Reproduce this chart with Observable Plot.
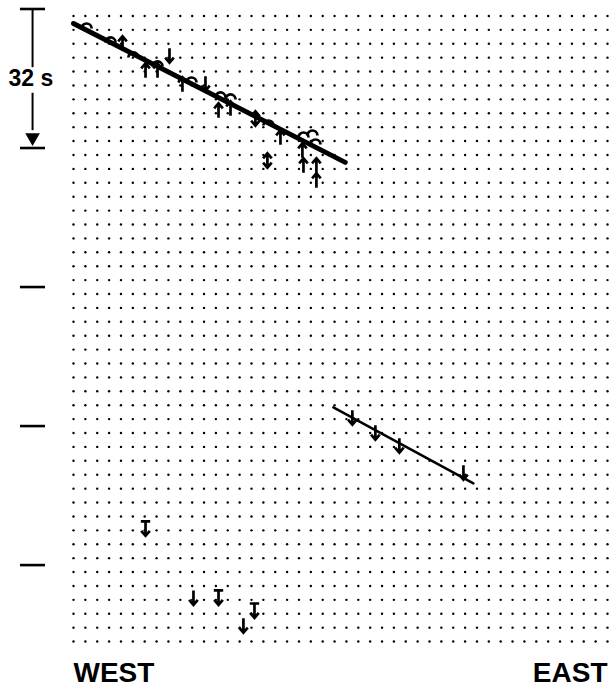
<!DOCTYPE html>
<html><head><meta charset="utf-8">
<script src="https://cdn.jsdelivr.net/npm/d3@7"></script>
<script src="https://cdn.jsdelivr.net/npm/@observablehq/plot@0.6"></script>
<style>body{margin:0;background:#fff;font-family:"Liberation Sans",Arial,sans-serif}</style>
</head><body><div id="chart"></div>
<script>
// Background dot grid: 46 distance columns x 46 time rows (3.2 s apart)
const gridColumns = d3.range(0, 46);
const gridRows = d3.range(0, 46).map(k => 1.6 + 3.2 * k);

// Time ticks on the left (seconds) and the scale bracket
const timeTicks = [0, 32, 64, 96, 128];
const bracketLabel = "32 s";

// First-motion arrows: distance (grid units), time (s), kind
const arrowX = [1.1, 3.12, 4.13, 5.05, 8.09, 6.07, 7.08, 7.08, 9.94, 9.18, 11.12, 12.38, 12.22, 13.23, 13.23,
  15.33, 16.43, 17.44, 16.34, 19.38, 19.29, 20.13, 20.39, 19.38, 20.47, 20.47,
  23.5, 25.44, 27.46, 32.86,
  6.07, 10.11, 12.22, 15.25, 14.32];
const arrowT = [4.03, 7.25, 7.94, 10.7, 10.7, 14.16, 14.16, 12.77, 16.46, 17.38, 17.15, 19.91, 23.37, 22.9, 20.37,
  25.21, 26.36, 29.58, 34.88, 29.12, 32.57, 28.66, 30.73, 36.03, 36.03, 39.48,
  94.04, 97.49, 100.48, 106.7,
  119.6, 135.5, 135.5, 138.5, 141.9];
const arrowKind = ["arc", "arc", "up", "arc", "down", "up", "up", "arc", "arc", "up", "down", "arc", "up", "up", "arc",
  "updown", "arc", "up", "updown", "arc", "up", "arc", "arc", "up", "up", "up",
  "down", "down", "down", "down",
  "bardown", "down", "bardown", "bardown", "down"];

// Fitted travel-time lines
const upperLineX = [0, 22.9];
const upperLineT = [3.34, 35.3];
const lowerLineX = [21.9, 33.7];
const lowerLineT = [91.7, 109.2];

const arrows = arrowX.map((x, i) => ({x, t: arrowT[i], kind: arrowKind[i]}));
const grid = d3.cross(gridColumns, gridRows).map(([x, t]) => ({x, t}));
const upper = upperLineX.map((x, i) => ({x, t: upperLineT[i]}));
const lower = lowerLineX.map((x, i) => ({x, t: lowerLineT[i]}));

const R = s => Math.sqrt(s / Math.PI);
const head = (c, r, dir) => { c.moveTo(-0.6*r, dir*0.3*r); c.lineTo(0, dir*r); c.lineTo(0.6*r, dir*0.3*r); };
const symbols = {
  up: {draw(c, s) { const r = R(s); c.moveTo(0, r); c.lineTo(0, -r); head(c, r, -1); }},
  down: {draw(c, s) { const r = R(s); c.moveTo(0, -r); c.lineTo(0, r); head(c, r, 1); }},
  updown: {draw(c, s) { const r = R(s); c.moveTo(0, -r); c.lineTo(0, r); head(c, r, 1); head(c, r, -1); }},
  bardown: {draw(c, s) { const r = R(s); c.moveTo(-0.65*r, -r); c.lineTo(0.65*r, -r); c.moveTo(0, -r); c.lineTo(0, r); head(c, r, 1); }},
  arc: {draw(c, s) { const r = R(s) * 0.7; c.moveTo(-r, r*0.4); c.arc(0, r*0.4, r, Math.PI, 2*Math.PI); }}
};

const arrowMarks = Object.keys(symbols).map(k =>
  Plot.dot(arrows.filter(d => d.kind === k), {x: "x", y: "t", r: 7.2, symbol: symbols[k], fill: "none", stroke: "black", strokeWidth: 2.7, strokeLinejoin: "miter"})
);

const chart = Plot.plot({
  width: 612,
  height: 686,
  marginLeft: 73,
  marginRight: 5,
  marginTop: 8.5,
  marginBottom: 38,
  style: {fontFamily: "'Liberation Sans', Arial, sans-serif", background: "white"},
  x: {domain: [0, 45], axis: null},
  y: {domain: [0, 147.2], reverse: true, axis: null},
  marks: [
    Plot.dot(grid, {x: "x", y: "t", r: 1.2, fill: "black", stroke: "none"}),
    Plot.line(upper, {x: "x", y: "t", stroke: "black", strokeWidth: 5}),
    Plot.line(lower, {x: "x", y: "t", stroke: "black", strokeWidth: 2.5}),
    ...arrowMarks,
    // time scale ticks and bracket
    Plot.ruleY(timeTicks, {x1: -4.47, x2: -2.36, stroke: "black", strokeWidth: 2.6}),
    Plot.ruleX([-3.45], {y1: 0, y2: 13.5, stroke: "black", strokeWidth: 2}),
    Plot.ruleX([-3.45], {y1: 19.4, y2: 28, stroke: "black", strokeWidth: 2}),
    Plot.dot([timeTicks[1]], {x: -3.45, y: d => d - 2.4, symbol: "triangle2", rotate: 180, r: 7, fill: "black", stroke: "none"}),
    Plot.text([bracketLabel], {x: -3.6, y: 16.0, text: d => d, fontSize: 23, fontWeight: "bold", fill: "black"}),
    Plot.text(["WEST"], {frameAnchor: "bottom-left", dy: 33, textAnchor: "start", fontSize: 28, fontWeight: "bold", fill: "black"}),
    Plot.text(["EAST"], {frameAnchor: "bottom-right", dy: 33, textAnchor: "end", fontSize: 28, fontWeight: "bold", fill: "black"})
  ]
});
document.getElementById("chart").appendChild(chart);
</script>
</body></html>
